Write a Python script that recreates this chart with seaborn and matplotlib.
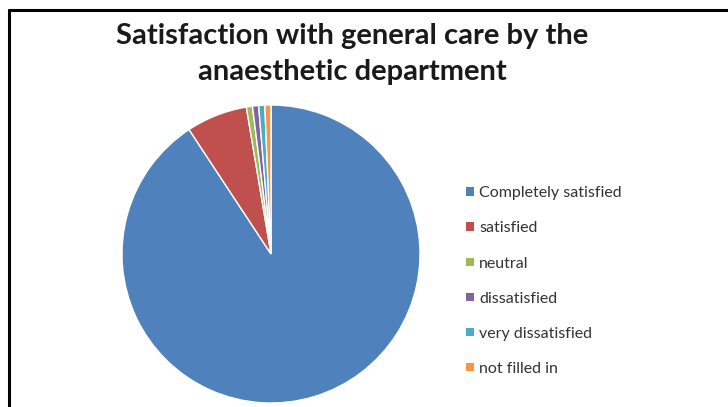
import matplotlib
matplotlib.use("Agg")
import matplotlib.pyplot as plt
import seaborn as sns
from matplotlib.lines import Line2D
from matplotlib.patches import Patch

sns.set_theme(style="white")
plt.rcParams['font.family'] = ['Lato', 'DejaVu Sans']

categories = ["Completely satisfied", "satisfied", "neutral", "dissatisfied",
              "very dissatisfied", "not filled in"]
counts = [137, 10, 1, 1, 1, 1]
colors = ["#4F81BD", "#C0504D", "#9BBB59", "#8064A2", "#4BACC6", "#F79646"]
title = "Satisfaction with general care by the\nanaesthetic department"

W, H = 728, 407
fig = plt.figure(figsize=(W / 100, H / 100), dpi=100)
fig.patch.set_facecolor("white")

cx, cy, r = 271, 254, 149
ax = fig.add_axes([(cx - r) / W, (H - cy - r) / H, 2 * r / W, 2 * r / H])
ax.pie(counts, colors=colors, startangle=90, counterclock=False, radius=1,
       wedgeprops=dict(edgecolor="white", linewidth=1))
ax.set_xlim(-1, 1)
ax.set_ylim(-1, 1)
ax.set_aspect("equal")
ax.axis("off")

fig.text(352 / W, 1 - 54 / H, title, ha="center", va="center",
         fontsize=21, fontweight="bold", color="#1a1a1a", linespacing=1.45)

handles = [Patch(facecolor=c, edgecolor="none") for c in colors]
fig.legend(handles, categories, loc="upper left",
           bbox_to_anchor=(452 / W, 1 - 172 / H), frameon=False,
           fontsize=11.5, handlelength=0.45, handleheight=0.45, handletextpad=0.35,
           labelspacing=1.32, labelcolor="#333333")

# border lines (top and left)
fig.add_artist(Line2D([9 / W, 1], [1 - 10 / H, 1 - 10 / H], color="black", lw=2.2,
                      transform=fig.transFigure))
fig.add_artist(Line2D([9 / W, 9 / W], [0, 1 - 10 / H], color="black", lw=2.2,
                      transform=fig.transFigure))

fig.savefig("out.png", dpi=100, facecolor="white")
